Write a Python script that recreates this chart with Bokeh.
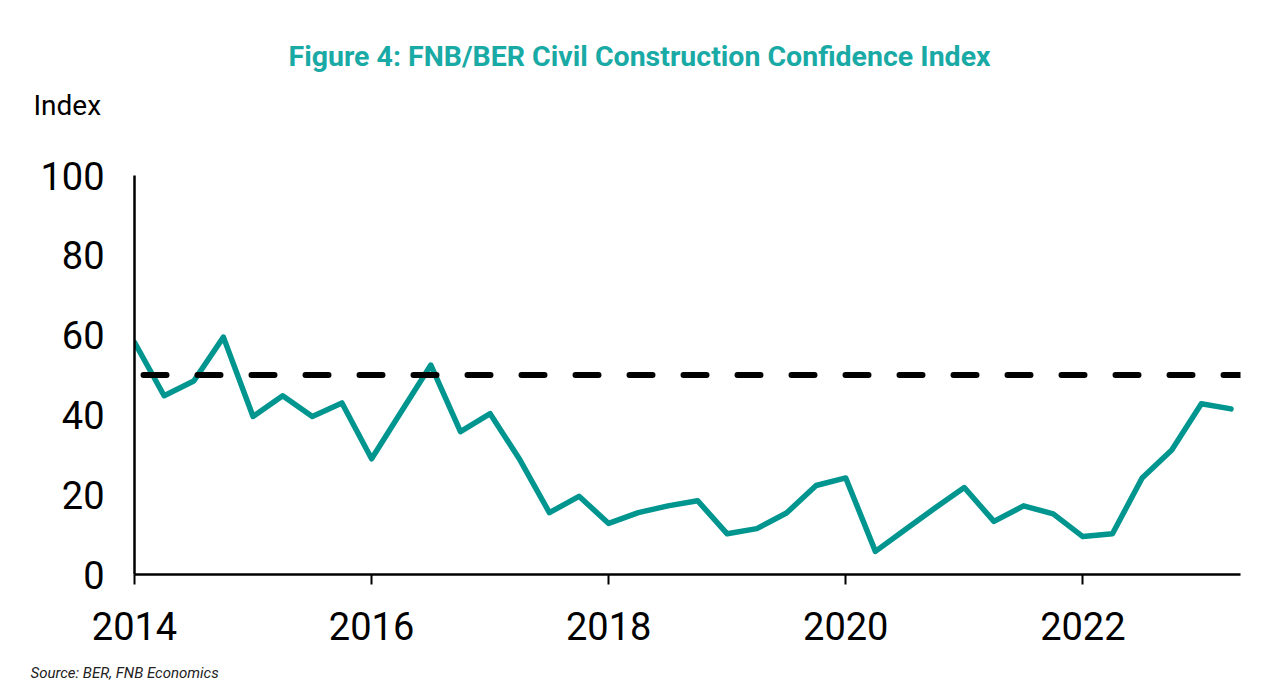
from bokeh.plotting import figure
from bokeh.models import Span, Title, FixedTicker, Range1d
from bokeh.embed import file_html
from bokeh.resources import INLINE

years = [2014]*4 + [2015]*4 + [2016]*4 + [2017]*4 + [2018]*4 + [2019]*4 + [2020]*4 + [2021]*4 + [2022]*4 + [2023]*2
quarters = [1, 2, 3, 4]*9 + [1, 2]
index_values = [58.2, 44.8, 48.5, 59.5, 39.6, 44.8, 39.6, 43.0,
                29.0, 40.8, 52.5, 35.8, 40.3, 28.8, 15.5, 19.6,
                12.8, 15.5, 17.2, 18.5, 10.2, 11.5, 15.4, 22.3,
                24.2, 5.8, 11.2, 16.6, 21.8, 13.3, 17.2, 15.2,
                9.5, 10.2, 24.2, 31.2, 42.8, 41.5]
neutral_level = 50
x_tick_years = [2014, 2016, 2018, 2020, 2022]
y_ticks = [0, 20, 40, 60, 80, 100]

xs = [y + (q - 1) / 4 for y, q in zip(years, quarters)]

TEAL = "#00968F"
TITLE_TEAL = "#19AAA6"

p = figure(width=1280, height=700, output_backend="svg", toolbar_location=None,
           x_range=Range1d(2014, 2023.33), y_range=Range1d(0, 100),
           min_border_left=134, min_border_right=40, min_border_top=175, min_border_bottom=125)
p.outline_line_color = None
p.grid.visible = False
p.background_fill_color = "white"
p.border_fill_color = "white"

p.line(xs, index_values, line_color=TEAL, line_width=5.5, line_join="round", line_cap="round")

span = Span(location=neutral_level, dimension="width", line_color="black", line_width=6,
            line_dash="23 31", line_dash_offset=45, line_cap="round")
p.add_layout(span)

p.xaxis.ticker = FixedTicker(ticks=x_tick_years)
p.yaxis.ticker = FixedTicker(ticks=y_ticks)
for ax in (p.xaxis, p.yaxis):
    ax.axis_line_color = "black"
    ax.axis_line_width = 2.5
    ax.major_tick_line_color = "black"
    ax.major_tick_line_width = 2
    ax.minor_tick_line_color = None
    ax.major_tick_in = 0
    ax.major_label_text_font = "Roboto"
    ax.major_label_text_font_size = "38px"
    ax.major_label_text_color = "black"
p.xaxis.major_tick_out = 10
p.xaxis.major_label_standoff = 27
p.yaxis.major_tick_out = 0
p.yaxis.major_label_standoff = 30

src = Title(text="Source: BER, FNB Economics", align="left", offset=-104, standoff=38,
            text_font="Roboto", text_font_style="italic", text_font_size="15px",
            text_color="#222222")
p.add_layout(src, "below")

spacer = Title(text=" ", align="left", standoff=42, text_font_size="2px")
p.add_layout(spacer, "above")

idx = Title(text="Index", align="left", offset=-101, standoff=16,
            text_font="Roboto", text_font_style="normal", text_font_size="28px",
            text_color="black")
p.add_layout(idx, "above")

main = Title(text="Figure 4: FNB/BER Civil Construction Confidence Index", align="left",
             offset=154, standoff=12, text_font="Roboto", text_font_style="bold",
             text_font_size="28.5px", text_color=TITLE_TEAL)
p.add_layout(main, "above")

open("out.html", "w").write(file_html(p, INLINE))
